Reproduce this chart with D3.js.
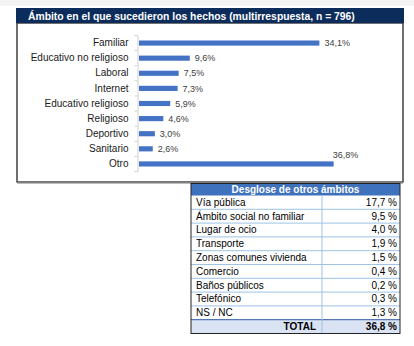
<!DOCTYPE html>
<html><head><meta charset="utf-8">
<script src="https://cdn.jsdelivr.net/npm/d3@7"></script>
<style>
html,body{margin:0;padding:0;background:#fff;}
svg{display:block;font-family:"Liberation Sans",Arial,sans-serif;}
</style></head>
<body>
<script>
const titleText = "Ámbito en el que sucedieron los hechos (multirrespuesta, n = 796)";
const categories = ["Familiar","Educativo no religioso","Laboral","Internet","Educativo religioso","Religioso","Deportivo","Sanitario","Otro"];
const values = [34.1, 9.6, 7.5, 7.3, 5.9, 4.6, 3.0, 2.6, 36.8];
const tableTitle = "Desglose de otros ámbitos";
const otherLabels = ["Vía pública","Ámbito social no familiar","Lugar de ocio","Transporte","Zonas comunes vivienda","Comercio","Baños públicos","Telefónico","NS / NC"];
const otherValues = [17.7, 9.5, 4.0, 1.9, 1.5, 0.4, 0.2, 0.3, 1.3];
const totalLabel = "TOTAL";
const totalValue = 36.8;

const fmt = v => v.toFixed(1).replace(".", ",");

const W = 414, H = 346;
const svg = d3.select("body").append("svg").attr("width", W).attr("height", H);

// faint top strip
svg.append("rect").attr("x",0).attr("y",0).attr("width",W).attr("height",6).attr("fill","#f4f4f4");

// chart box
svg.append("rect").attr("x",17).attr("y",23).attr("width",386).attr("height",159)
  .attr("fill","#fff").attr("stroke","#111").attr("stroke-width",1.2);
svg.append("line").attr("x1",17).attr("x2",403).attr("y1",182.5).attr("y2",182.5)
  .attr("stroke","#7f7f7f").attr("stroke-width",2);

// title bar
svg.append("rect").attr("x",16).attr("y",8).attr("width",388).attr("height",15).attr("fill","#0c2d5c");
svg.append("text").attr("x",28).attr("y",19.5).attr("fill","#fff")
  .attr("font-weight","bold").attr("font-size",10.35).text(titleText);

// scales
const x = d3.scaleLinear().domain([0, 40]).range([139, 139 + 40*5.29]);
const y = d3.scaleBand().domain(categories).range([35.5, 171.5]).paddingInner(0.66).paddingOuter(0.33);

// axis
const axis = d3.axisLeft(y).tickSize(0).tickPadding(9);
const gA = svg.append("g").attr("transform","translate(137.5,0)").call(axis);
gA.select(".domain").attr("stroke","#d0d0d0");
gA.selectAll("text").attr("font-size",10).attr("fill","#1a1a1a")
  .attr("font-family","\"Liberation Sans\",Arial,sans-serif");
// boundary ticks
const step = y.step();
const bounds = d3.range(categories.length + 1).map(i => 35.5 + i*step);
svg.append("g").selectAll("line").data(bounds).join("line")
  .attr("x1",134.5).attr("x2",137.5).attr("y1",d=>d).attr("y2",d=>d)
  .attr("stroke","#d0d0d0");

// bars
const data = categories.map((c,i)=>({c, v: values[i]}));
svg.append("g").selectAll("rect").data(data).join("rect")
  .attr("x", x(0)).attr("y", d=>y(d.c)).attr("height", y.bandwidth())
  .attr("width", d=>x(d.v)-x(0)).attr("fill","#4472c4");

// value labels
svg.append("g").selectAll("text").data(data).join("text")
  .attr("x", d=> d.c==="Otro" ? x(d.v)-1 : x(d.v)+5)
  .attr("y", d=> d.c==="Otro" ? y(d.c)-3 : y(d.c)+y.bandwidth()/2+3.2)
  .attr("font-size",9).attr("fill","#404040")
  .text(d=>fmt(d.v)+"%");

// table
const tx0 = 191, tx1 = 400, tdiv = 322;
const ty0 = 183.5, headH = 12, rowH = 13.8;
const rows = otherLabels.map((l,i)=>({l, v: otherValues[i]}));
const tg = svg.append("g");
tg.append("rect").attr("x",tx0).attr("y",ty0).attr("width",tx1-tx0).attr("height",headH).attr("fill","#3f72bd");
tg.append("text").attr("x",(tx0+tx1)/2).attr("y",ty0+9.5).attr("text-anchor","middle")
  .attr("fill","#fff").attr("font-weight","bold").attr("font-size",10).text(tableTitle);
const rowY = i => ty0 + headH + i*rowH;
// total bg
tg.append("rect").attr("x",tx0).attr("y",rowY(rows.length)).attr("width",tx1-tx0).attr("height",rowH).attr("fill","#dae3f3");
// row lines
tg.selectAll("line.r").data(d3.range(1, rows.length)).join("line")
  .attr("x1",tx0).attr("x2",tx1).attr("y1",i=>rowY(i)).attr("y2",i=>rowY(i))
  .attr("stroke","#9dc3e6").attr("stroke-width",1);
tg.append("line").attr("x1",tx0).attr("x2",tx1).attr("y1",rowY(rows.length)).attr("y2",rowY(rows.length))
  .attr("stroke","#2e5c9e").attr("stroke-width",1);
tg.append("line").attr("x1",tdiv).attr("x2",tdiv).attr("y1",rowY(0)).attr("y2",rowY(rows.length+1))
  .attr("stroke","#9dc3e6");
// outer border
tg.append("rect").attr("x",tx0).attr("y",ty0).attr("width",tx1-tx0).attr("height",rowY(rows.length+1)-ty0)
  .attr("fill","none").attr("stroke","#222").attr("stroke-width",1);
// row texts
tg.selectAll("text.l").data(rows).join("text").attr("class","l")
  .attr("x",tx0+5).attr("y",(d,i)=>rowY(i)+10.3).attr("font-size",10).attr("fill","#000").text(d=>d.l);
tg.selectAll("text.v").data(rows).join("text").attr("class","v")
  .attr("x",tx1-3).attr("y",(d,i)=>rowY(i)+10.3).attr("text-anchor","end").attr("font-size",10).attr("fill","#000")
  .text(d=>fmt(d.v)+" %");
tg.append("text").attr("x",tdiv-6).attr("y",rowY(rows.length)+10.3).attr("text-anchor","end")
  .attr("font-size",10).attr("font-weight","bold").text(totalLabel);
tg.append("text").attr("x",tx1-3).attr("y",rowY(rows.length)+10.3).attr("text-anchor","end")
  .attr("font-size",10).attr("font-weight","bold").text(fmt(totalValue)+" %");
</script>
</body></html>
